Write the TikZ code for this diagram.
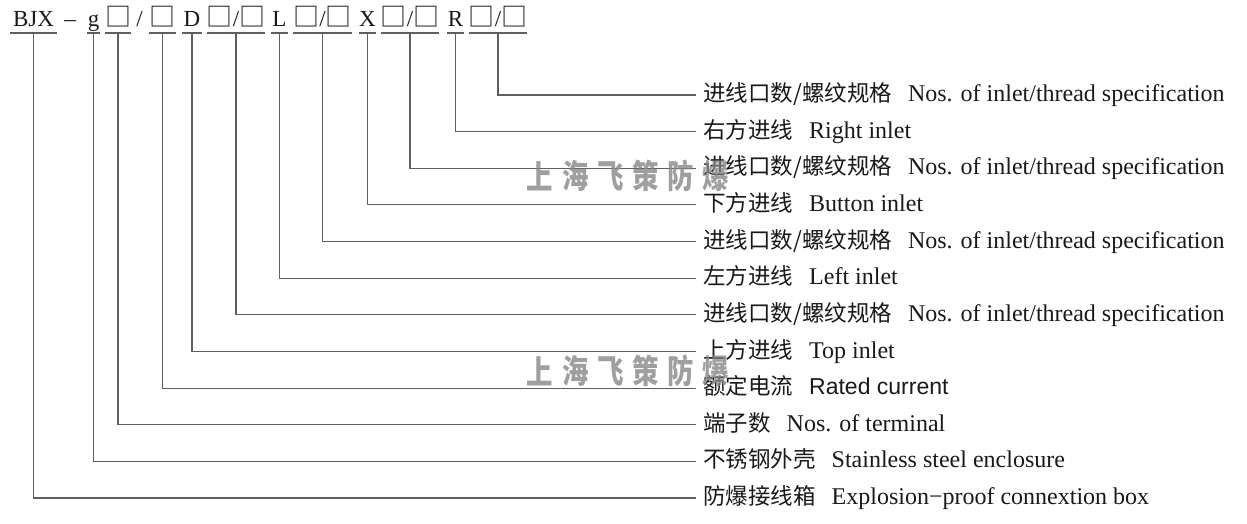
\documentclass[tikz,border=0pt]{standalone}
\usepackage{fontspec}
\setmainfont{Liberation Serif}
\newfontfamily\cjk{Noto Sans CJK SC}
\newfontfamily\arialf{Liberation Sans}
\definecolor{linec}{RGB}{95,95,95}
\definecolor{txt}{RGB}{25,25,25}
\definecolor{wm}{RGB}{135,135,135}
\begin{document}
\begin{tikzpicture}[x=1pt,y=-1pt,
  conn/.style={draw=linec,line width=1.1pt},
  tok/.style={inner xsep=0pt,inner ysep=0pt,anchor=base,text=txt,
    font=\fontsize{23pt}{25pt}\selectfont},
  lab/.style={inner sep=0pt,anchor=base west,text=txt,
    font=\fontsize{24pt}{26pt}\selectfont},
  wmk/.style={text=wm,opacity=0.8,inner sep=0pt,
    font=\cjk\bfseries\fontsize{33pt}{33pt}\selectfont,xscale=0.8,transform shape}
]
\useasboundingbox (0,0) rectangle (1247,524);
\newcommand{\cn}[1]{{\cjk\fontsize{22.5pt}{24pt}\selectfont #1}\hspace{16pt}}
\newcommand{\bx}{{\cjk\fontsize{26pt}{26pt}\selectfont □}}
% top row tokens
\node[tok,minimum width=47pt] (tBJX) at (33.5,27) {BJX};
\node[tok] (tdash) at (70,27) {–};
\node[tok,minimum width=13pt] (tg) at (93.5,27) {g};
\node[tok,minimum width=22pt] (tb1) at (118,27) {\bx};
\node[tok] (tsl) at (139.5,27) {/};
\node[tok,minimum width=21pt] (tb2) at (162.5,27) {\bx};
\node[tok,minimum width=20pt] (tD) at (192,27) {D};
\node[tok,minimum width=52pt] (tD2) at (236,27) {\bx/\bx};
\node[tok,minimum width=17pt] (tL) at (279.5,27) {L};
\node[tok,minimum width=51pt] (tL2) at (322.5,27) {\bx/\bx};
\node[tok,minimum width=17pt] (tX) at (367.5,27) {X};
\node[tok,minimum width=52pt] (tX2) at (410,27) {\bx/\bx};
\node[tok,minimum width=17pt] (tR) at (455.5,27) {R};
\node[tok,minimum width=52pt] (tR2) at (498,27) {\bx/\bx};
\foreach \t in {tBJX,tg,tb1,tb2,tD,tD2,tL,tL2,tX,tX2,tR,tR2}{
  \draw[conn] ([yshift=-6pt]\t.base west) -- ([yshift=-6pt]\t.base east);
}
% row end points
\foreach \i/\yy in {0/95,1/131.6,2/168.3,3/204.9,4/241.6,5/278.2,6/314.8,7/351.5,8/388.1,9/424.8,10/461.4,11/498}{
  \coordinate (e\i) at (696,\yy);
}
% labels
\node[lab] (l0) at ([xshift=7pt,yshift=-6.5pt]e0) {\cn{进线口数/螺纹规格}Nos. of inlet/thread specification};
\node[lab] (l1) at ([xshift=7pt,yshift=-6.5pt]e1) {\cn{右方进线}Right inlet};
\node[lab] (l2) at ([xshift=7pt,yshift=-6.5pt]e2) {\cn{进线口数/螺纹规格}Nos. of inlet/thread specification};
\node[lab] (l3) at ([xshift=7pt,yshift=-6.5pt]e3) {\cn{下方进线}Button inlet};
\node[lab] (l4) at ([xshift=7pt,yshift=-6.5pt]e4) {\cn{进线口数/螺纹规格}Nos. of inlet/thread specification};
\node[lab] (l5) at ([xshift=7pt,yshift=-6.5pt]e5) {\cn{左方进线}Left inlet};
\node[lab] (l6) at ([xshift=7pt,yshift=-6.5pt]e6) {\cn{进线口数/螺纹规格}Nos. of inlet/thread specification};
\node[lab] (l7) at ([xshift=7pt,yshift=-6.5pt]e7) {\cn{上方进线}Top inlet};
\node[lab] (l8) at ([xshift=7pt,yshift=-6.5pt]e8) {\cn{额定电流}{\arialf\fontsize{23pt}{25pt}\selectfont Rated current}};
\node[lab] (l9) at ([xshift=7pt,yshift=-6.5pt]e9) {\cn{端子数}Nos. of terminal};
\node[lab] (l10) at ([xshift=7pt,yshift=-6.5pt]e10) {\cn{不锈钢外壳}Stainless steel enclosure};
\node[lab] (l11) at ([xshift=7pt,yshift=-6.5pt]e11) {\cn{防爆接线箱}Explosion−proof connextion box};
% connectors
\foreach \t/\i in {tR2/0,tR/1,tX2/2,tX/3,tL2/4,tL/5,tD2/6,tD/7,tb2/8,tb1/9,tg/10,tBJX/11}{
  \draw[conn] ([yshift=-6pt]\t.base) |- (e\i);
}
% watermarks
\foreach \c [count=\k from 0] in {上,海,飞,策,防,爆}{
  \node[wmk] (wa\k) at (540+35.2*\k,176) {\c};
  \node[wmk] (wb\k) at (540+35.2*\k,371) {\c};
}
\end{tikzpicture}
\end{document}
